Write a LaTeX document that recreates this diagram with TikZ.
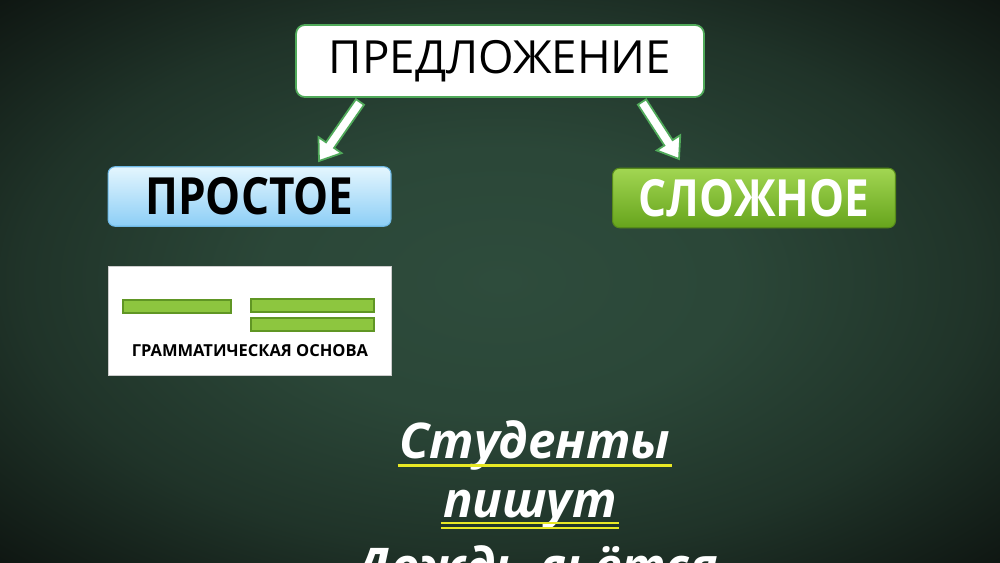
\documentclass[tikz,border=0pt]{standalone}
\usepackage{fontspec}
\setmainfont{Open Sans}
\usetikzlibrary{calc}

\definecolor{bgin}{RGB}{46,76,60}
\definecolor{bgout}{RGB}{14,21,17}
\definecolor{frame}{RGB}{80,170,90}
\definecolor{skytop}{RGB}{228,246,254}
\definecolor{skybot}{RGB}{140,206,246}
\definecolor{skyline}{RGB}{110,185,230}
\definecolor{limetop}{RGB}{162,214,82}
\definecolor{limebot}{RGB}{102,164,28}
\definecolor{limeline}{RGB}{86,138,26}
\definecolor{barfill}{RGB}{141,198,63}
\definecolor{barline}{RGB}{96,150,36}
\definecolor{uline}{RGB}{232,232,36}
\pgfdeclareradialshading{vignette}{\pgfpoint{0bp}{0bp}}{color(0bp)=(bgin); color(12bp)=(bgin!90!bgout); color(24bp)=(bgin!55!bgout); color(36bp)=(bgout); color(100bp)=(bgout)}

\begin{document}
\begin{tikzpicture}[x=0.02cm,y=-0.02cm,
  sent node/.style={draw=frame,line width=1pt,fill=white,rounded corners=5pt,minimum width=8.16cm,minimum height=1.44cm,font=\fontsize{26}{30}\selectfont},
  kind node/.style={rounded corners=4pt,minimum width=5.66cm,minimum height=1.19cm,line width=0.6pt,font=\fontsize{27}{30}\selectfont\bfseries},
  bar node/.style={draw=barline,fill=barfill,line width=0.6pt,minimum height=0.26cm,inner sep=0pt},
  line node/.style={text=white,anchor=base,inner sep=1pt,font=\fontsize{28}{32}\selectfont\bfseries\itshape}]

\useasboundingbox (0,0) rectangle (1000,562);
\clip (0,0) rectangle (1000,562);
\fill[shading=vignette] (0,0) rectangle (1000,562);

  \node[sent node] (sent) at (500,61) {ПРЕДЛОЖЕНИЕ};
  \node[kind node,draw=skyline,top color=skytop,bottom color=skybot] (simple) at (249.5,196.5) {\scalebox{0.93}[1.08]{ПРОСТОЕ}};
  \node[kind node,draw=limeline,top color=limetop,bottom color=limebot,text=white] (complex) at (754,198) {\scalebox{0.93}[1.08]{СЛОЖНОЕ}};

  % grammatical basis
  \node[draw=gray!40,fill=white,minimum width=5.66cm,minimum height=2.18cm] (basis) at (249.5,320.5) {};
  \node[bar node,minimum width=2.16cm] (subj) at (177,306.5) {};
  \node[bar node,minimum width=2.46cm] (pred1) at (312.5,305.5) {};
  \node[bar node,minimum width=2.46cm] (pred2) at (312.5,324.5) {};
  \node[font=\fontsize{9.4}{11}\selectfont\bfseries] (gram) at (250,351) {ГРАММАТИЧЕСКАЯ ОСНОВА};

  % arrows
  \coordinate (l1) at (360,102);
  \coordinate (l2) at (319,161);
  \coordinate (r1) at (642,102);
  \coordinate (r2) at (679,159);
  \foreach \a/\b in {l1/l2,r1/r2}{
    \coordinate (h) at ($(\b)!11pt!(\a)$);
    \draw[frame,line width=1pt,fill=white,line join=miter]
      ($(\a)!2.8pt!90:(\b)$) -- ($(h)!2.8pt!90:(\b)$) -- ($(h)!8pt!90:(\b)$) -- (\b)
      -- ($(h)!8pt!-90:(\b)$) -- ($(h)!2.8pt!-90:(\b)$) -- ($(\a)!2.8pt!-90:(\b)$) -- cycle;
  }

  % example sentences
  \node[line node] (s1) at (535,458) {Студенты};
  \node[line node] (s2) at (530,517) {пишут};
  \node[line node] (s3) at (537,583) {Дождь льётся};
  \draw[uline,line width=1.7pt] ([yshift=-4pt]s1.base west) -- ([yshift=-4pt]s1.base east);
  \draw[uline,line width=1.4pt] ([yshift=-3.4pt]s2.base west) -- ([yshift=-3.4pt]s2.base east);
  \draw[uline,line width=1.4pt] ([yshift=-6.2pt]s2.base west) -- ([yshift=-6.2pt]s2.base east);
\end{tikzpicture}
\end{document}
